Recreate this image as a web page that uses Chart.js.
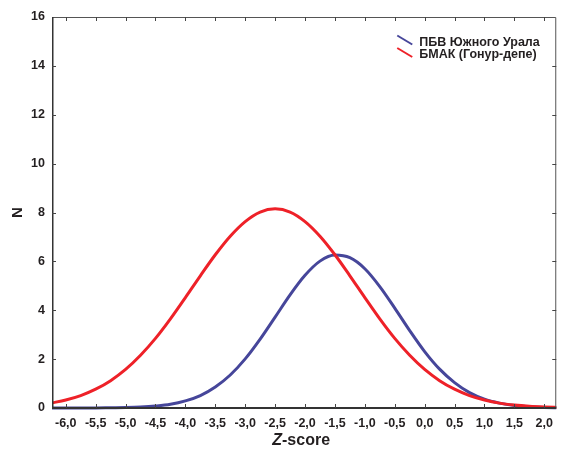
<!DOCTYPE html>
<html>
<head>
<meta charset="utf-8">
<script src="https://cdn.jsdelivr.net/npm/chart.js@4.4.1/dist/chart.umd.min.js"></script>
<style>
html, body { margin: 0; padding: 0; background: #fff; }
#wrap { width: 561px; height: 451px; }
</style>
</head>
<body>
<div id="wrap"><canvas id="zChart" width="561" height="451"></canvas></div>
<script>
// ===========================
// Data
// ===========================

const zValues = [-6.25, -6.0, -5.75, -5.5, -5.25, -5.0, -4.75, -4.5, -4.25, -4.0, -3.75, -3.5,
    -3.25, -3.0, -2.75, -2.5, -2.25, -2.0, -1.75, -1.5, -1.25, -1.0, -0.75, -0.5, -0.25,
    0.0, 0.25, 0.5, 0.75, 1.0, 1.25, 1.5, 1.75, 2.0, 2.25];

// ПБВ Южного Урала (blue)
const uralN = [0.00, 0.00, 0.00, 0.00, 0.01, 0.02, 0.04, 0.08, 0.15, 0.29, 0.51, 0.86,
    1.35, 2.01, 2.82, 3.72, 4.63, 5.43, 6.01, 6.26, 6.15, 5.70, 4.97, 4.09, 3.17,
    2.31, 1.59, 1.04, 0.63, 0.36, 0.20, 0.10, 0.05, 0.02, 0.01];

// БМАК (Гонур-депе) (red)
const gonurN = [0.20, 0.33, 0.51, 0.77, 1.12, 1.58, 2.16, 2.85, 3.65, 4.52, 5.41, 6.27,
    7.03, 7.63, 8.02, 8.15, 8.02, 7.63, 7.03, 6.27, 5.41, 4.52, 3.65, 2.85, 2.16,
    1.58, 1.12, 0.77, 0.51, 0.33, 0.20, 0.12, 0.07, 0.04, 0.02];

const seriesNames = ['ПБВ Южного Урала', 'БМАК (Гонур-депе)'];
const xTickValues = [-6.0, -5.5, -5.0, -4.5, -4.0, -3.5, -3.0, -2.5, -2.0, -1.5, -1.0, -0.5,
    0.0, 0.5, 1.0, 1.5, 2.0];
const yTickValues = [0, 2, 4, 6, 8, 10, 12, 14, 16];
const xTitle = ['Z', '-score'];
const yTitle = 'N';

const FONT = '"Liberation Sans", Arial, Helvetica, sans-serif';
const TEXT = '#231f20';
const BLUE = '#46469a';
const RED = '#ee2128';

function toPoints(values) {
    return zValues.map((z, i) => ({ x: z, y: values[i] }));
}

// ===========================
// Frame, inward ticks, titles, legend
// ===========================

const framePlugin = {
    id: 'frame',
    afterDraw(chart) {
        const ctx = chart.ctx;
        const a = chart.chartArea;
        const xs = chart.scales.x;
        const ys = chart.scales.y;

        ctx.save();
        // box
        ctx.strokeStyle = '#555';
        ctx.lineWidth = 1;
        ctx.beginPath();
        ctx.moveTo(a.left, a.top + 0.5);
        ctx.lineTo(a.right - 0.5, a.top + 0.5);
        ctx.lineTo(a.right - 0.5, a.bottom);
        ctx.stroke();
        ctx.strokeStyle = '#333';
        ctx.lineWidth = 1.5;
        ctx.beginPath();
        ctx.moveTo(a.left + 0.75, a.top);
        ctx.lineTo(a.left + 0.75, a.bottom);
        ctx.stroke();
        ctx.lineWidth = 2;
        ctx.beginPath();
        ctx.moveTo(a.left, a.bottom);
        ctx.lineTo(a.right, a.bottom);
        ctx.stroke();

        // inward tick marks
        ctx.lineWidth = 1;
        ctx.strokeStyle = '#444';
        ctx.beginPath();
        xTickValues.forEach(v => {
            const px = Math.round(xs.getPixelForValue(v)) + 0.5;
            ctx.moveTo(px, a.bottom);
            ctx.lineTo(px, a.bottom - 4);
            ctx.moveTo(px, a.top);
            ctx.lineTo(px, a.top + 4);
        });
        yTickValues.slice(1, -1).forEach(v => {
            const py = Math.round(ys.getPixelForValue(v)) + 0.5;
            ctx.moveTo(a.left, py);
            ctx.lineTo(a.left + 4, py);
            ctx.moveTo(a.right, py);
            ctx.lineTo(a.right - 4, py);
        });
        ctx.stroke();

        // axis titles
        ctx.fillStyle = TEXT;
        ctx.textBaseline = 'middle';
        ctx.font = 'italic bold 16px ' + FONT;
        const wZ = ctx.measureText(xTitle[0]).width;
        ctx.font = 'bold 16px ' + FONT;
        const wRest = ctx.measureText(xTitle[1]).width;
        let tx = (a.left + a.right) / 2 - (wZ + wRest) / 2 - 3;
        ctx.textAlign = 'left';
        ctx.font = 'italic bold 16px ' + FONT;
        ctx.fillText(xTitle[0], tx, 441);
        ctx.font = 'bold 16px ' + FONT;
        ctx.fillText(xTitle[1], tx + wZ, 441);

        ctx.save();
        ctx.translate(18, (a.top + a.bottom) / 2);
        ctx.rotate(-Math.PI / 2);
        ctx.textAlign = 'center';
        ctx.font = 'bold 15px ' + FONT;
        ctx.fillText(yTitle, 0, 0);
        ctx.restore();

        // legend with slanted line swatches
        const colors = [BLUE, RED];
        ctx.font = 'bold 12.5px ' + FONT;
        ctx.textAlign = 'left';
        seriesNames.forEach((name, i) => {
            const ty = 42.5 + i * 12.5;
            const lx = a.right - 159;
            ctx.strokeStyle = colors[i];
            ctx.lineWidth = 2;
            ctx.beginPath();
            ctx.moveTo(lx, ty - 7);
            ctx.lineTo(lx + 15, ty + 2);
            ctx.stroke();
            ctx.fillStyle = TEXT;
            ctx.fillText(name, lx + 22, ty);
        });
        ctx.restore();
    }
};

// ===========================
// Chart
// ===========================

const ctx = document.getElementById('zChart');

new Chart(ctx, {
    type: 'line',
    data: {
        datasets: [{
            label: seriesNames[0],
            data: toPoints(uralN),
            borderColor: BLUE,
            borderWidth: 3,
            pointRadius: 0,
            tension: 0.4,
            cubicInterpolationMode: 'monotone',
            order: 1,
            clip: { left: 0, top: 0, right: 0, bottom: 3 }
        }, {
            label: seriesNames[1],
            data: toPoints(gonurN),
            borderColor: RED,
            borderWidth: 3,
            pointRadius: 0,
            tension: 0.4,
            cubicInterpolationMode: 'monotone',
            order: 0,
            clip: { left: 0, top: 0, right: 0, bottom: 3 }
        }]
    },
    options: {
        responsive: false,
        animation: false,
        events: [],
        layout: {
            padding: { top: 17, right: 1, left: 0, bottom: 0 }
        },
        plugins: {
            legend: { display: false },
            tooltip: { enabled: false }
        },
        scales: {
            x: {
                type: 'linear',
                min: -6.23,
                max: 2.2,
                grid: { display: false, drawTicks: false },
                border: { display: false },
                afterBuildTicks: scale => {
                    scale.ticks = xTickValues.map(v => ({ value: v }));
                },
                afterFit: scale => { scale.height = 43; },
                ticks: {
                    autoSkip: false,
                    maxRotation: 0,
                    padding: 8,
                    color: TEXT,
                    font: { family: FONT, size: 12.5, weight: 'bold' },
                    callback: v => v.toFixed(1).replace('.', ',')
                }
            },
            y: {
                min: 0,
                max: 16,
                grid: { display: false, drawTicks: false },
                border: { display: false },
                afterBuildTicks: scale => {
                    scale.ticks = yTickValues.map(v => ({ value: v }));
                },
                afterFit: scale => { scale.width = 52; },
                ticks: {
                    padding: 7,
                    color: TEXT,
                    font: { family: FONT, size: 12.5, weight: 'bold' }
                }
            }
        }
    },
    plugins: [framePlugin]
});
</script>
</body>
</html>
